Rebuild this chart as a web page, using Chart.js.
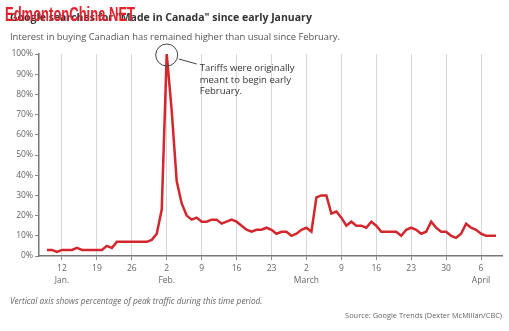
<!DOCTYPE html>
<html>
<head>
<meta charset="utf-8">
<script src="https://cdn.jsdelivr.net/npm/chart.js@4"></script>
<style>
  html, body { margin: 0; padding: 0; background: #fff; }
  #wrap { position: relative; width: 509px; height: 331px; }
</style>
</head>
<body>
<div id="wrap"><canvas id="myChart" width="509" height="331"></canvas></div>
<script>
// Google Trends, "Made in Canada", daily values from Jan 9 to April 9
const firstDate = "2025-01-09"
const interest = [
    3, 3, 2, 3, 3, 3, 4, 3, 3, 3, 3, 3, 5, 4, 7, 7, 7, 7, 7, 7, 7, 8, 11,
    23, 100, 72, 37, 26, 20, 18, 19, 17, 17, 18, 18, 16, 17, 18, 17, 15, 13, 12, 13, 13, 14, 13, 11, 12, 12, 10, 11,
    13, 14, 12, 29, 30, 30, 21, 22, 19, 15, 17, 15, 15, 14, 17, 15, 12, 12, 12, 12, 10, 13, 14, 13, 11, 12, 17, 14, 12, 12, 10,
    9, 11, 16, 14, 13, 11, 10, 10, 10
]
const tickDates = ["2025-01-12", "2025-01-19", "2025-01-26", "2025-02-02", "2025-02-09", "2025-02-16", "2025-02-23",
    "2025-03-02", "2025-03-09", "2025-03-16", "2025-03-23", "2025-03-30", "2025-04-06"]
const tickLabels = ["12", "19", "26", "2", "9", "16", "23", "2", "9", "16", "23", "30", "6"]
const monthLabels = ["Jan.", "", "", "Feb.", "", "", "", "March", "", "", "", "", "April"]
const yTicks = [0, 10, 20, 30, 40, 50, 60, 70, 80, 90, 100]

const titulo = 'Google searches for "Made in Canada" since early January'
const subtitulo = "Interest in buying Canadian has remained higher than usual since February."
const nota = "Vertical axis shows percentage of peak traffic during this time period."
const fuente = "Source: Google Trends (Dexter McMillan/CBC)"
const anotacion = ["Tariffs were originally", "meant to begin early", "February."]
const marca = "EdmontonChina.NET"

function dayOf(iso) {
    const [y, m, d] = iso.split("-").map(Number)
    return (Date.UTC(y, m - 1, d) - Date.UTC(2025, 0, 1)) / 864e5
}

const start = dayOf(firstDate)
const puntos = interest.map((v, i) => ({ x: start + i, y: v }))
const ticksX = tickDates.map(dayOf)
const peakIndex = interest.indexOf(Math.max(...interest))

const textos = {
    id: "textos",
    afterDraw(chart) {
        const ctx = chart.ctx
        ctx.save()
        ctx.textBaseline = "alphabetic"
        ctx.textAlign = "left"

        ctx.fillStyle = "#333"
        ctx.font = "bold 10.5px 'Open Sans'"
        ctx.fillText(titulo, 10, 21)

        ctx.fillStyle = "#555"
        ctx.font = "9.4px 'Open Sans'"
        ctx.fillText(subtitulo, 10, 40)

        ctx.fillStyle = "#666"
        ctx.font = "italic 8.3px 'Open Sans'"
        ctx.fillText(nota, 10, 304)

        ctx.font = "7.4px 'Open Sans'"
        ctx.textAlign = "right"
        ctx.fillText(fuente, 502, 318)

        // annotation at the peak
        const px = chart.scales.x.getPixelForValue(puntos[peakIndex].x)
        const py = chart.scales.y.getPixelForValue(puntos[peakIndex].y)
        ctx.strokeStyle = "#444"
        ctx.lineWidth = 1
        ctx.beginPath()
        ctx.arc(px, py + 1, 11, 0, Math.PI * 2)
        ctx.stroke()
        ctx.beginPath()
        ctx.moveTo(px + 12, py + 5)
        ctx.lineTo(px + 30, py + 10)
        ctx.stroke()

        ctx.fillStyle = "#333"
        ctx.textAlign = "left"
        ctx.font = "9.5px 'Open Sans'"
        anotacion.forEach((t, i) => ctx.fillText(t, px + 33, py + 17 + i * 11.5))

        // watermark
        ctx.fillStyle = "#e8202a"
        ctx.font = "bold 20px 'Liberation Sans'"
        const w = ctx.measureText(marca).width
        ctx.translate(5, 21)
        ctx.scale(130 / w, 1)
        ctx.fillText(marca, 0, 0)
        ctx.restore()
    }
}

const grafica = document.getElementById("myChart").getContext("2d")

const myChart = new Chart(grafica, {
    type: "line",
    data: {
        datasets: [
            {
                label: "Interest",
                data: puntos,
                borderColor: "#d4262d",
                borderWidth: 2.5,
                pointRadius: 0,
                tension: 0,
                fill: false
            }
        ]
    },
    options: {
        responsive: false,
        animation: false,
        layout: { padding: { top: 54, right: 7, left: 0, bottom: 35 } },
        plugins: {
            legend: { display: false },
            tooltip: { enabled: false }
        },
        scales: {
            x: {
                type: "linear",
                min: start - 1.6,
                max: start + interest.length - 1 + 1.2,
                afterFit: s => { s.height = 40 },
                afterBuildTicks: s => { s.ticks = ticksX.map(v => ({ value: v })) },
                ticks: {
                    autoSkip: false,
                    maxRotation: 0,
                    padding: 3,
                    color: "#666",
                    font: { family: "'Open Sans'", size: 8.5, lineHeight: 1.4 },
                    callback: (v, i) => [tickLabels[i], monthLabels[i]]
                },
                grid: {
                    color: "#d5d8da",
                    lineWidth: 1,
                    tickColor: "#888",
                    tickLength: 4
                },
                border: { color: "#777", width: 1.5 }
            },
            y: {
                min: 0,
                max: 100,
                afterFit: s => { s.width = 39 },
                afterBuildTicks: s => { s.ticks = yTicks.map(v => ({ value: v })) },
                ticks: {
                    padding: 2,
                    color: "#666",
                    font: { family: "'Open Sans'", size: 8.5 },
                    callback: v => v + "%"
                },
                grid: {
                    drawOnChartArea: false,
                    tickColor: "#888",
                    tickLength: 4
                },
                border: { color: "#777", width: 1.5 }
            }
        }
    },
    plugins: [textos]
})
</script>
</body>
</html>
